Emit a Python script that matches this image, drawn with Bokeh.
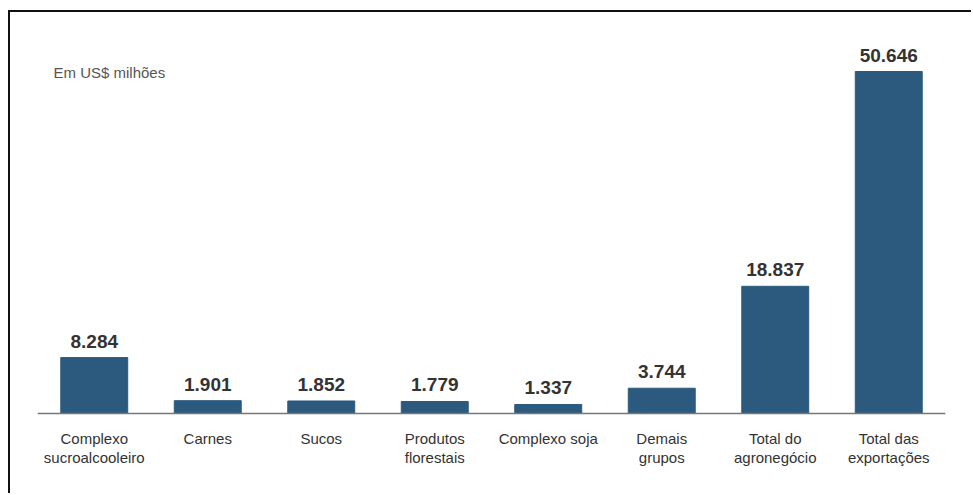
from bokeh.plotting import figure
from bokeh.models import ColumnDataSource, Label, FactorRange, Range1d, Span
from bokeh.embed import file_html
from bokeh.resources import INLINE
from bokeh.core.properties import value

categories = ["Complexo sucroalcooleiro", "Carnes", "Sucos", "Produtos florestais",
              "Complexo soja", "Demais grupos", "Total do agronegócio", "Total das exportações"]
tick_labels = ["Complexo\nsucroalcooleiro", "Carnes", "Sucos", "Produtos\nflorestais",
               "Complexo soja", "Demais\ngrupos", "Total do\nagronegócio", "Total das\nexportações"]
values = [8284, 1901, 1852, 1779, 1337, 3744, 18837, 50646]
value_labels = ["8.284", "1.901", "1.852", "1.779", "1.337", "3.744", "18.837", "50.646"]

src = ColumnDataSource(dict(cat=categories, val=values, lab=value_labels,
                            tick=tick_labels, zero=[0] * len(values)))

W, H = 963, 483
p = figure(width=W, height=H, x_range=FactorRange(*categories, range_padding=0),
           y_range=Range1d(-10662, 58199), output_backend="svg", toolbar_location=None,
           min_border_left=27, min_border_right=28, min_border_top=8, min_border_bottom=10)
p.styles = {"margin-left": "8px", "margin-top": "10px",
            "border-left": "2px solid #111", "border-top": "2px solid #111"}
p.outline_line_color = None
p.grid.grid_line_color = None
p.axis.visible = False
p.background_fill_color = "white"
p.border_fill_color = "white"

p.vbar(x="cat", top="val", width=0.59, source=src, fill_color="#2c5a7e", line_color="#2c5a7e")
p.add_layout(Span(location=0, dimension="width", line_color="#777777", line_width=1.5))
p.text(x="cat", y="val", text="lab", source=src, y_offset=-10, text_align="center",
       text_baseline="bottom", text_font=value("Liberation Sans"), text_font_style="bold",
       text_font_size="19px", text_color="#333333")
p.text(x="cat", y="zero", text="tick", source=src, y_offset=16, text_align="center",
       text_baseline="top", text_font=value("Liberation Sans"), text_font_size="15px",
       text_color="#333333", text_line_height=1.15)

p.add_layout(Label(x=16, y=50498, x_units="screen", y_units="data", text="Em US$ milhões",
                   text_font="Liberation Sans", text_font_size="15px", text_color="#555555",
                   text_baseline="middle"))

open("out.html", "w").write(file_html(p, INLINE))
